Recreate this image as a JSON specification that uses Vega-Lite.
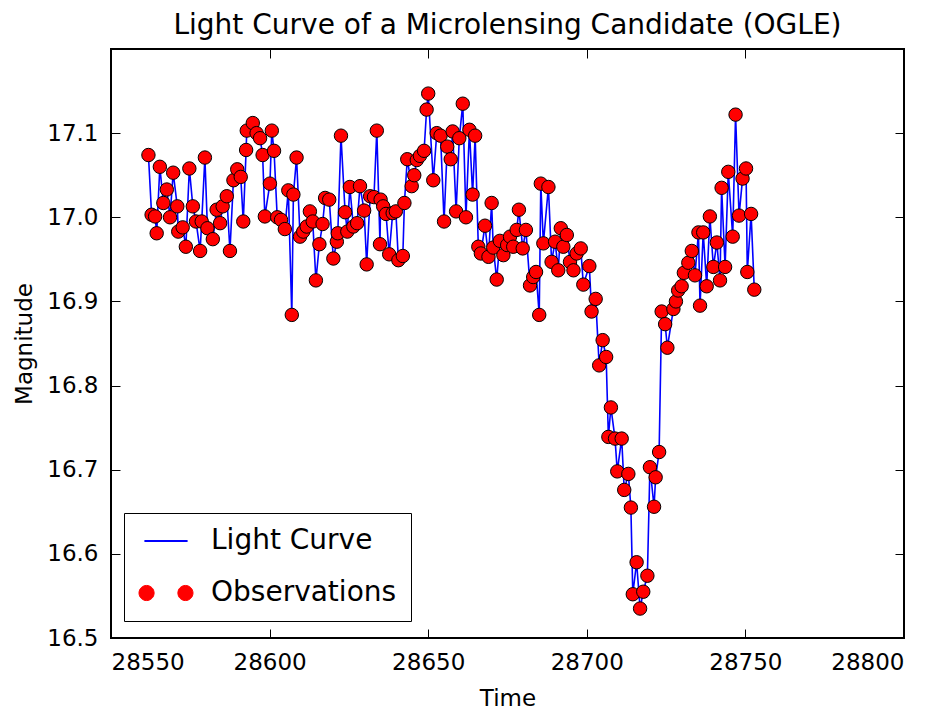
{
  "$schema": "https://vega.github.io/schema/vega-lite/v6.json",
  "width": 793,
  "height": 589,
  "autosize": {"type": "none"},
  "padding": {"left": 111, "top": 49, "right": 41, "bottom": 77},
  "background": "#ffffff",
  "title": {
    "text": "Light Curve of a Microlensing Candidate (OGLE)",
    "fontSize": 28,
    "font": "DejaVu Sans",
    "fontWeight": "normal",
    "color": "#000000",
    "anchor": "middle",
    "baseline": "bottom",
    "offset": -19
  },
  "data": {
    "values": [
      {"t": 28561.8, "m": 17.074}, {"t": 28562.8, "m": 17.003}, {"t": 28563.9, "m": 17.001}, {"t": 28564.4, "m": 16.981},
      {"t": 28565.4, "m": 17.060}, {"t": 28566.5, "m": 17.017}, {"t": 28567.6, "m": 17.033}, {"t": 28568.6, "m": 17.000},
      {"t": 28569.6, "m": 17.053}, {"t": 28570.9, "m": 17.013}, {"t": 28571.2, "m": 16.983}, {"t": 28572.6, "m": 16.988},
      {"t": 28573.6, "m": 16.965}, {"t": 28574.7, "m": 17.058}, {"t": 28575.8, "m": 17.013}, {"t": 28576.8, "m": 16.995},
      {"t": 28578.1, "m": 16.960}, {"t": 28578.6, "m": 16.995}, {"t": 28579.6, "m": 17.071}, {"t": 28580.4, "m": 16.987},
      {"t": 28582.1, "m": 16.974}, {"t": 28583.3, "m": 17.009}, {"t": 28584.4, "m": 16.993}, {"t": 28585.2, "m": 17.013},
      {"t": 28586.5, "m": 17.025}, {"t": 28587.5, "m": 16.960}, {"t": 28588.6, "m": 17.044}, {"t": 28589.8, "m": 17.057},
      {"t": 28590.9, "m": 17.048}, {"t": 28591.7, "m": 16.995}, {"t": 28592.6, "m": 17.080}, {"t": 28592.8, "m": 17.103},
      {"t": 28594.7, "m": 17.112}, {"t": 28595.9, "m": 17.100}, {"t": 28597.0, "m": 17.094}, {"t": 28597.8, "m": 17.074},
      {"t": 28598.5, "m": 17.001}, {"t": 28600.1, "m": 17.040}, {"t": 28600.7, "m": 17.103}, {"t": 28601.4, "m": 17.079},
      {"t": 28602.4, "m": 17.000}, {"t": 28603.6, "m": 16.997}, {"t": 28604.8, "m": 16.986}, {"t": 28605.9, "m": 17.032},
      {"t": 28607.0, "m": 16.884}, {"t": 28607.5, "m": 17.027}, {"t": 28608.5, "m": 17.071}, {"t": 28609.6, "m": 16.977},
      {"t": 28610.6, "m": 16.983}, {"t": 28611.7, "m": 16.989}, {"t": 28612.7, "m": 17.007}, {"t": 28613.6, "m": 16.995},
      {"t": 28614.6, "m": 16.925}, {"t": 28615.7, "m": 16.968}, {"t": 28616.7, "m": 16.992}, {"t": 28617.5, "m": 17.023},
      {"t": 28618.8, "m": 17.021}, {"t": 28620.1, "m": 16.951}, {"t": 28621.2, "m": 16.971}, {"t": 28621.5, "m": 16.981},
      {"t": 28622.5, "m": 17.097}, {"t": 28623.8, "m": 17.006}, {"t": 28624.5, "m": 16.983}, {"t": 28625.3, "m": 17.036},
      {"t": 28626.4, "m": 16.989}, {"t": 28627.6, "m": 16.993}, {"t": 28628.5, "m": 17.037}, {"t": 28629.8, "m": 17.008},
      {"t": 28630.6, "m": 16.944}, {"t": 28631.7, "m": 17.025}, {"t": 28632.9, "m": 17.024}, {"t": 28633.8, "m": 17.103},
      {"t": 28634.8, "m": 16.968}, {"t": 28635.0, "m": 17.021}, {"t": 28635.8, "m": 17.013}, {"t": 28636.7, "m": 17.004},
      {"t": 28637.7, "m": 16.956}, {"t": 28638.8, "m": 17.005}, {"t": 28639.8, "m": 17.007}, {"t": 28640.6, "m": 16.949},
      {"t": 28642.0, "m": 16.954}, {"t": 28642.5, "m": 17.017}, {"t": 28643.4, "m": 17.069}, {"t": 28644.8, "m": 17.037},
      {"t": 28645.6, "m": 17.050}, {"t": 28646.4, "m": 17.068}, {"t": 28647.4, "m": 17.073}, {"t": 28648.7, "m": 17.079},
      {"t": 28649.5, "m": 17.128}, {"t": 28650.0, "m": 17.147}, {"t": 28651.6, "m": 17.044}, {"t": 28652.7, "m": 17.100},
      {"t": 28653.9, "m": 17.097}, {"t": 28655.0, "m": 16.995}, {"t": 28656.0, "m": 17.084}, {"t": 28657.1, "m": 17.069},
      {"t": 28657.7, "m": 17.102}, {"t": 28658.8, "m": 17.007}, {"t": 28659.8, "m": 17.094}, {"t": 28660.9, "m": 17.135},
      {"t": 28661.9, "m": 17.000}, {"t": 28663.0, "m": 17.104}, {"t": 28664.0, "m": 17.027}, {"t": 28664.8, "m": 17.097},
      {"t": 28665.8, "m": 16.965}, {"t": 28666.6, "m": 16.957}, {"t": 28667.9, "m": 16.990}, {"t": 28669.0, "m": 16.953},
      {"t": 28670.0, "m": 17.017}, {"t": 28670.5, "m": 16.964}, {"t": 28671.6, "m": 16.926}, {"t": 28672.6, "m": 16.972},
      {"t": 28673.7, "m": 16.955}, {"t": 28674.9, "m": 16.967}, {"t": 28675.8, "m": 16.977}, {"t": 28676.8, "m": 16.965},
      {"t": 28677.9, "m": 16.985}, {"t": 28678.6, "m": 17.009}, {"t": 28679.8, "m": 16.963}, {"t": 28680.8, "m": 16.985},
      {"t": 28682.1, "m": 16.919}, {"t": 28683.1, "m": 16.929}, {"t": 28684.0, "m": 16.935}, {"t": 28685.0, "m": 16.884},
      {"t": 28685.5, "m": 17.040}, {"t": 28686.3, "m": 16.969}, {"t": 28687.9, "m": 17.036}, {"t": 28688.9, "m": 16.947},
      {"t": 28690.0, "m": 16.971}, {"t": 28691.0, "m": 16.937}, {"t": 28691.8, "m": 16.987}, {"t": 28692.6, "m": 16.965},
      {"t": 28693.7, "m": 16.979}, {"t": 28694.7, "m": 16.947}, {"t": 28695.8, "m": 16.937}, {"t": 28696.8, "m": 16.957},
      {"t": 28698.1, "m": 16.963}, {"t": 28698.9, "m": 16.920}, {"t": 28700.8, "m": 16.942}, {"t": 28701.5, "m": 16.888},
      {"t": 28702.8, "m": 16.903}, {"t": 28703.9, "m": 16.824}, {"t": 28705.0, "m": 16.854}, {"t": 28706.1, "m": 16.834},
      {"t": 28706.8, "m": 16.739}, {"t": 28707.6, "m": 16.774}, {"t": 28708.9, "m": 16.737}, {"t": 28709.6, "m": 16.698},
      {"t": 28711.0, "m": 16.737}, {"t": 28711.8, "m": 16.676}, {"t": 28713.1, "m": 16.695}, {"t": 28713.9, "m": 16.655},
      {"t": 28714.5, "m": 16.552}, {"t": 28715.7, "m": 16.590}, {"t": 28716.8, "m": 16.535}, {"t": 28717.8, "m": 16.555},
      {"t": 28719.1, "m": 16.574}, {"t": 28719.9, "m": 16.703}, {"t": 28721.2, "m": 16.656}, {"t": 28721.7, "m": 16.691},
      {"t": 28722.8, "m": 16.721}, {"t": 28723.6, "m": 16.888}, {"t": 28724.7, "m": 16.873}, {"t": 28725.4, "m": 16.845},
      {"t": 28727.3, "m": 16.891}, {"t": 28728.1, "m": 16.900}, {"t": 28728.8, "m": 16.913}, {"t": 28729.9, "m": 16.918},
      {"t": 28730.6, "m": 16.934}, {"t": 28732.0, "m": 16.946}, {"t": 28733.1, "m": 16.960}, {"t": 28734.1, "m": 16.931},
      {"t": 28735.2, "m": 16.982}, {"t": 28735.7, "m": 16.895}, {"t": 28736.7, "m": 16.982}, {"t": 28737.8, "m": 16.918},
      {"t": 28738.8, "m": 17.001}, {"t": 28739.9, "m": 16.941}, {"t": 28741.0, "m": 16.970}, {"t": 28742.0, "m": 16.925},
      {"t": 28742.5, "m": 17.035}, {"t": 28743.6, "m": 16.941}, {"t": 28744.6, "m": 17.054}, {"t": 28746.0, "m": 16.977},
      {"t": 28746.9, "m": 17.122}, {"t": 28748.0, "m": 17.002}, {"t": 28749.1, "m": 17.046}, {"t": 28750.2, "m": 17.058},
      {"t": 28750.6, "m": 16.935}, {"t": 28751.8, "m": 17.004}, {"t": 28752.8, "m": 16.914}
    ]
  },
  "layer": [
    {
      "mark": {"type": "line", "strokeWidth": 1.6, "clip": true},
      "encoding": {
        "x": {
          "field": "t", "type": "quantitative",
          "scale": {"domain": [28550, 28800], "nice": false, "zero": false},
          "axis": {"orient": "bottom", "title": "Time", "values": [28550, 28600, 28650, 28700, 28750, 28800], "format": "d", "titlePadding": 13}
        },
        "y": {
          "field": "m", "type": "quantitative",
          "scale": {"domain": [16.5, 17.2], "nice": false, "zero": false},
          "axis": {"orient": "left", "title": "Magnitude", "values": [16.5, 16.6, 16.7, 16.8, 16.9, 17.0, 17.1], "format": ".1f", "titlePadding": 10}
        },
        "color": {
          "datum": "Light Curve",
          "type": "nominal",
          "scale": {"domain": ["Light Curve", "Observations"], "range": ["#0000ff", "#ff0000"]},
          "legend": {
            "title": null,
            "orient": "none",
            "legendX": 13,
            "legendY": 464,
            "symbolSize": 2916,
            "symbolOffset": 14,
            "labelFontSize": 28,
            "labelLimit": 400,
            "labelOffset": 31,
            "rowPadding": 24,
            "padding": 14,
            "strokeColor": "#000000",
            "fillColor": "#ffffff",
            "cornerRadius": 0,
            "encode": {
              "symbols": {
                "update": {
                  "shape": {"signal": "datum.value === 'Light Curve' ? 'M -0.8 0 L 0.8 0' : 'M -0.44 0 A 0.28 0.28 0 1 1 -1 0 A 0.28 0.28 0 1 1 -0.44 0 Z M 1 0 A 0.28 0.28 0 1 1 0.44 0 A 0.28 0.28 0 1 1 1 0 Z'"},
                  "fill": {"signal": "datum.value === 'Light Curve' ? 'transparent' : '#ff0000'"},
                  "stroke": {"signal": "datum.value === 'Light Curve' ? '#0000ff' : '#000000'"},
                  "strokeWidth": {"signal": "datum.value === 'Light Curve' ? 2 : 1"},
                  "opacity": {"value": 1},
                  "fillOpacity": {"value": 1},
                  "strokeOpacity": {"value": 1}
                }
              }
            }
          }
        }
      }
    },
    {
      "mark": {"type": "point", "filled": true, "size": 180, "stroke": "#000000", "strokeWidth": 1, "opacity": 1, "fillOpacity": 1, "clip": true},
      "encoding": {
        "x": {
          "field": "t", "type": "quantitative",
          "axis": {"orient": "top", "title": null, "labels": false, "values": [28550, 28600, 28650, 28700, 28750, 28800]}
        },
        "y": {
          "field": "m", "type": "quantitative",
          "axis": {"orient": "right", "title": null, "labels": false, "values": [16.5, 16.6, 16.7, 16.8, 16.9, 17.0, 17.1]}
        },
        "color": {"datum": "Observations", "type": "nominal"}
      }
    }
  ],
  "resolve": {"axis": {"x": "independent", "y": "independent"}},
  "config": {
    "font": "DejaVu Sans",
    "view": {"stroke": "#000000", "strokeWidth": 2},
    "axis": {
      "domain": false,
      "grid": false,
      "ticks": true,
      "tickSize": -9,
      "tickColor": "#000000",
      "tickWidth": 1,
      "labelFontSize": 23,
      "labelColor": "#000000",
      "labelFont": "DejaVu Sans",
      "labelPadding": 22,
      "titleFontSize": 23,
      "titleFontWeight": "normal",
      "titleColor": "#000000",
      "titleFont": "DejaVu Sans"
    },
    "legend": {"labelColor": "#000000", "labelFont": "DejaVu Sans"}
  }
}
